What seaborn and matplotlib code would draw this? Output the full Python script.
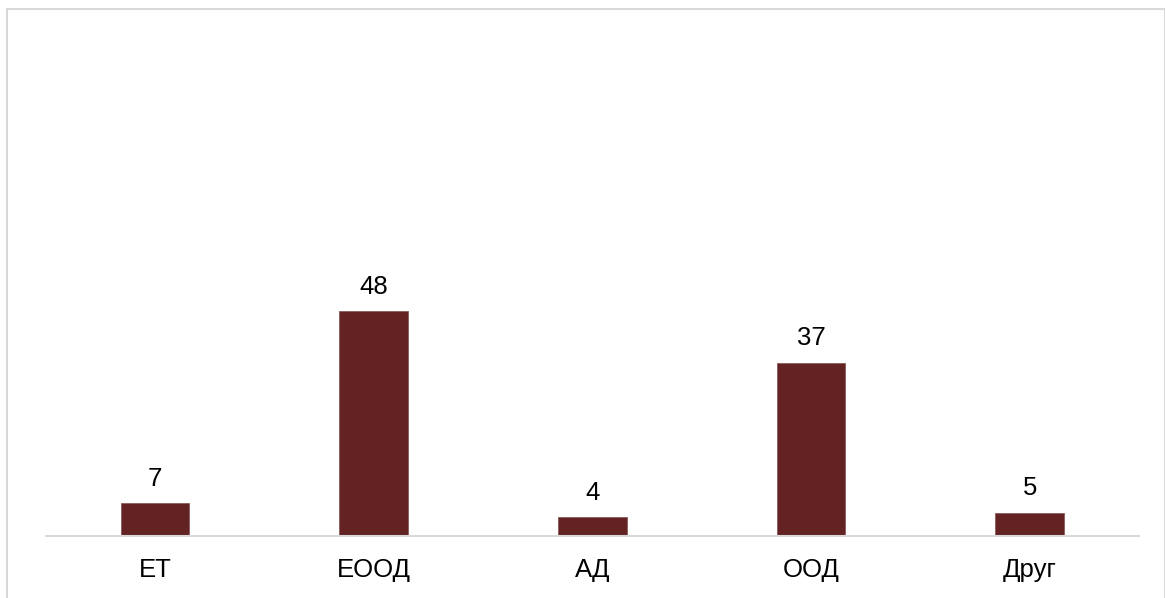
import matplotlib
matplotlib.use("Agg")
import matplotlib.pyplot as plt
import seaborn as sns
import pandas as pd
from matplotlib.patches import Rectangle

categories = ["ЕТ", "ЕООД", "АД", "ООД", "Друг"]
values = [7, 48, 4, 37, 5]

sns.set_theme(style="white")
plt.rcParams["font.family"] = ["Liberation Sans", "DejaVu Sans"]

W, H = 1165, 598
fig = plt.figure(figsize=(W / 100, H / 100), dpi=100)
fig.patch.set_facecolor("white")

# outer chart border
fig.patches.append(Rectangle((6.5 / W, -0.1), (1164.5 - 6.5) / W, 1.1 - 9.5 / H,
                             transform=fig.transFigure, fill=False,
                             edgecolor="#d9d9d9", linewidth=1.5, zorder=0))

ax_left, ax_right = 45.7 / W, 1139 / W
ax_bottom = (H - 536) / H
ax_top = (H - 68) / H
ax = fig.add_axes([ax_left, ax_bottom, ax_right - ax_left, ax_top - ax_bottom])

df = pd.DataFrame({"cat": categories, "val": values})
sns.barplot(data=df, x="cat", y="val", ax=ax, color="#632323", width=0.315,
            saturation=1, edgecolor="#8a5a5a", linewidth=0.6)

ax.set_ylim(0, 100)
ax.set_xlim(-0.5, len(categories) - 0.5)
for s in ["top", "right", "left"]:
    ax.spines[s].set_visible(False)
ax.spines["bottom"].set_color("#d9d9d9")
ax.spines["bottom"].set_linewidth(1.5)
ax.set_yticks([])
ax.set_xlabel("")
ax.set_ylabel("")
ax.tick_params(axis="x", length=0, pad=16, labelsize=18.5, labelcolor="black")
ax.patch.set_alpha(0)

for c in ax.containers:
    ax.bar_label(c, labels=[str(v) for v in values], padding=9, fontsize=18.5, color="black")

fig.savefig("out.png", dpi=100)
